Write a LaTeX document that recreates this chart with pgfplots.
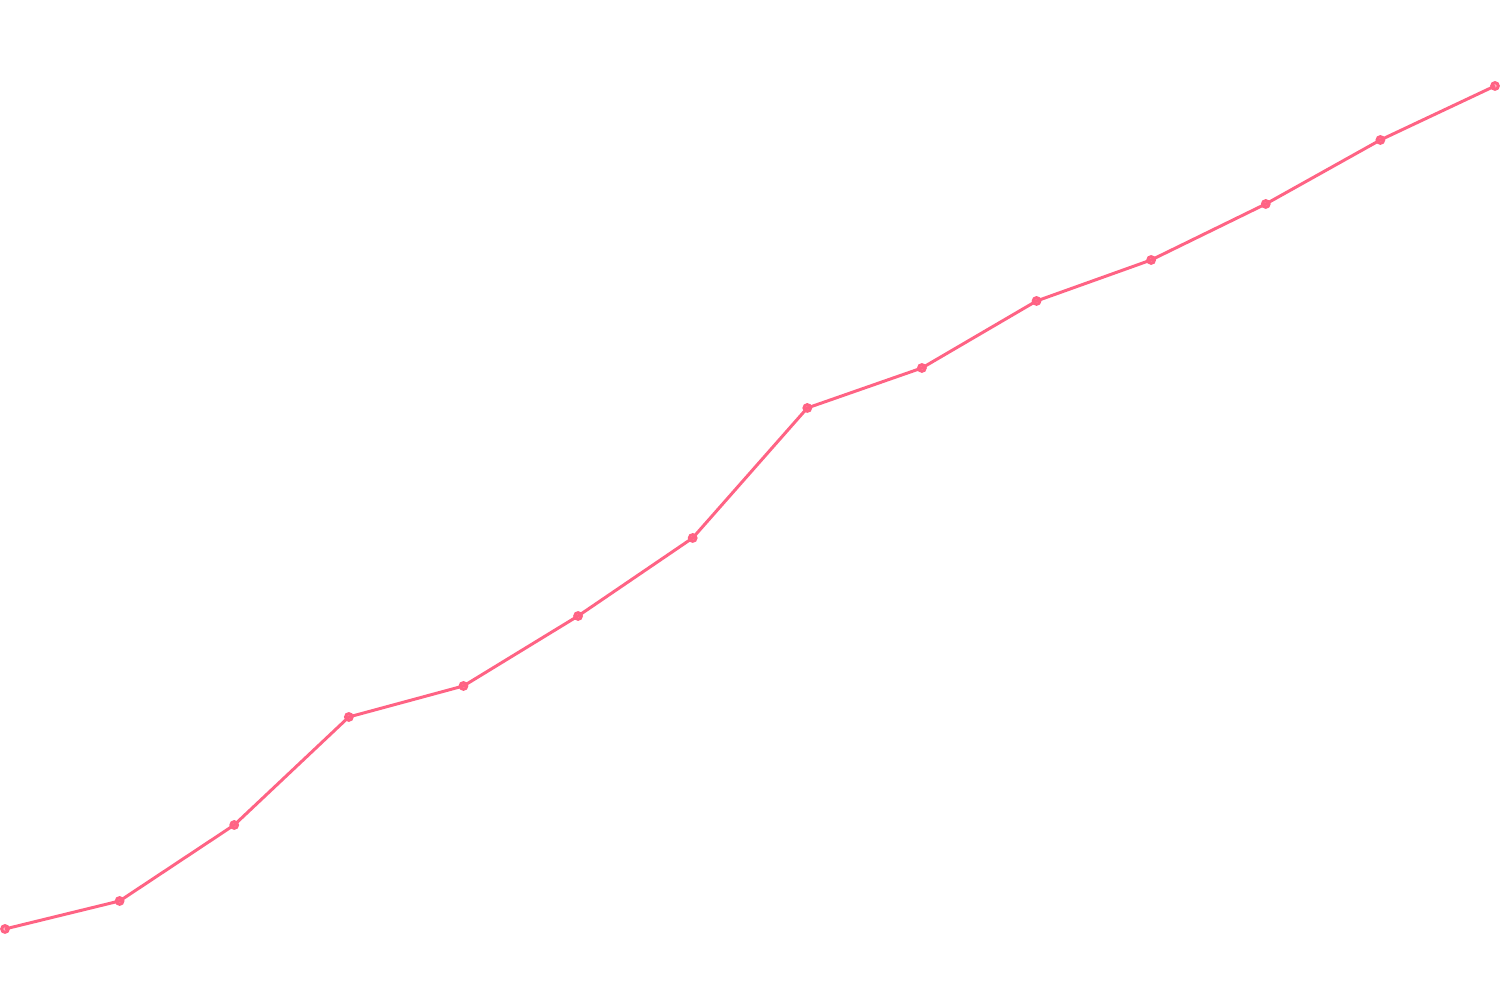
\documentclass[border=0pt]{standalone}
\usepackage{pgfplots}
\pgfplotsset{compat=1.18}
\definecolor{linepink}{RGB}{255,99,132}

\begin{document}
\begin{tikzpicture}
\begin{axis}[
	scale only axis,
	width=15cm, height=10cm,
	axis line style={draw=none},
	xtick=\empty, ytick=\empty,
	xmin=-0.0436, xmax=13.0436,
	ymin=0, ymax=1000,
	clip=false]
\addplot[color=linepink, line width=0.85pt,
	mark=*, mark size=0.95pt,
	mark options={draw=linepink, fill=linepink, fill opacity=0.5}] coordinates
{
	(0, 71)
	(1, 99)
	(2, 175)
	(3, 283)
	(4, 314)
	(5, 384)
	(6, 462)
	(7, 592)
	(8, 632)
	(9, 699)
	(10, 740)
	(11, 796)
	(12, 860)
	(13, 914)
};
\end{axis}
\end{tikzpicture}
\end{document}
